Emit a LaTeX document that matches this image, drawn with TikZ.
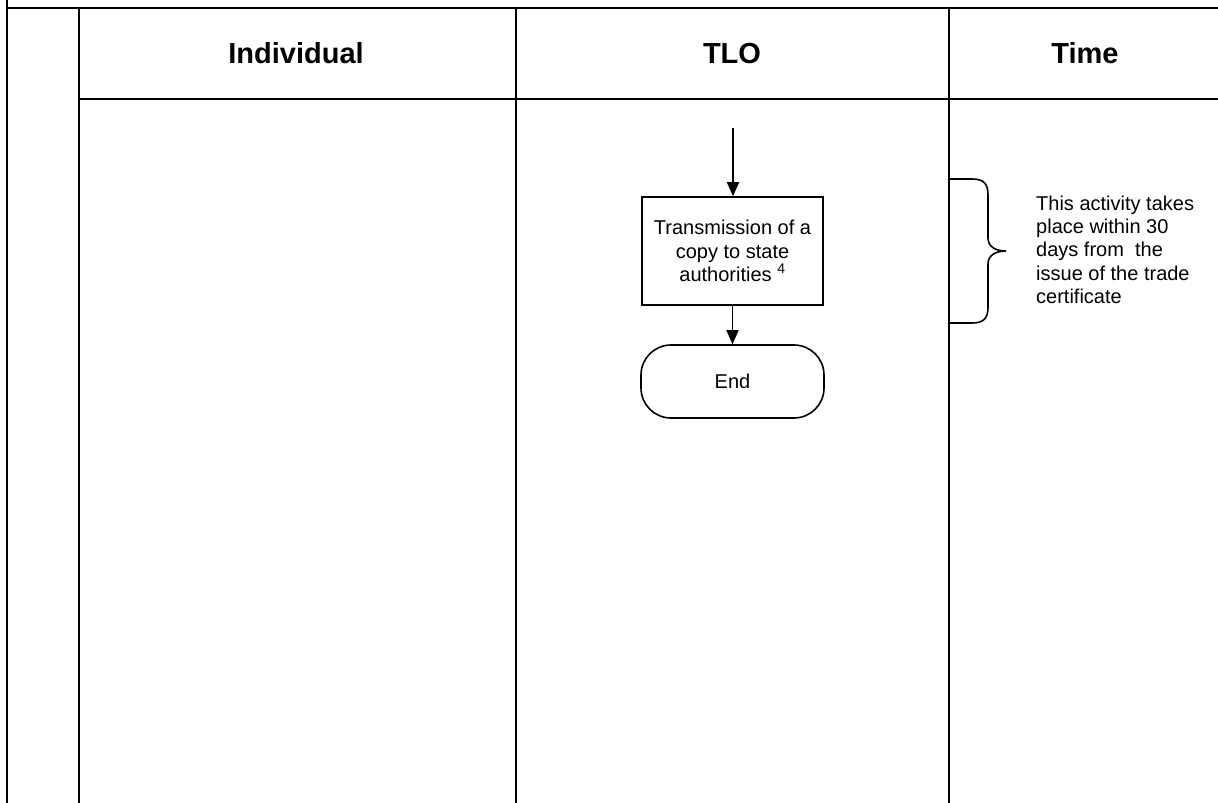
\documentclass[tikz,border=0pt]{standalone}
\usepackage{fontspec}
\setmainfont{Liberation Sans}
\usetikzlibrary{arrows.meta}
\begin{document}
\begin{tikzpicture}[x=1pt,y=-1pt,
  frame/.style={line width=2.2pt},
  hdr/.style={font=\fontsize{29}{34}\selectfont\bfseries},
  procbox/.style={draw,line width=1.6pt,minimum width=181pt,minimum height=108pt,align=center,inner sep=0pt,font=\fontsize{20}{23.3}\selectfont},
  termbox/.style={draw,line width=1.6pt,minimum width=183pt,minimum height=73pt,rounded corners=30pt,inner sep=0pt,font=\fontsize{20}{24}\selectfont},
  flow/.style={line width=1.6pt,-{Triangle[length=14pt,width=12pt]}},
  note/.style={align=left,inner sep=0pt,font=\fontsize{20}{23.3}\selectfont}
]
\useasboundingbox (0,0) rectangle (1218,803);
% frame
\draw[frame] (7,8) -- (1218,8);
\draw[frame] (7,0) -- (7,803);
\draw[frame] (79,8) -- (79,803);
\draw[frame] (516,8) -- (516,803);
\draw[frame] (949,8) -- (949,803);
\draw[frame] (79,99) -- (1218,99);
% headers
\node[hdr] (hind) at (296,53.5) {Individual};
\node[hdr] (htlo) at (732,53.5) {TLO};
\node[hdr] (htime) at (1085,53.5) {Time};
% flow
\coordinate (start) at (733,128);
\node[procbox] (trans) at (732.5,251) {Transmission of a\\copy to state\\authorities \textsuperscript{4}};
\node[termbox] (endnode) at (732.5,381.5) {End};
\draw[flow] (start) -- (start |- trans.north);
\draw[flow] (trans.south) -- (endnode.north);
% brace
\draw[line width=1.6pt] (949,179) -- (972,179) .. controls (984,179) and (988,184) .. (988,195)
  -- (988,238) .. controls (988,247) and (996,251) .. (1006,251)
  .. controls (996,251) and (988,255) .. (988,264)
  -- (988,307) .. controls (988,318) and (984,323) .. (972,323) -- (949,323);
% note
\node[note,anchor=north west] (timenote) at (1036,195.5) {This activity takes\\place within 30\\days from\ \ the\\issue of the trade\\certificate};
\end{tikzpicture}
\end{document}
